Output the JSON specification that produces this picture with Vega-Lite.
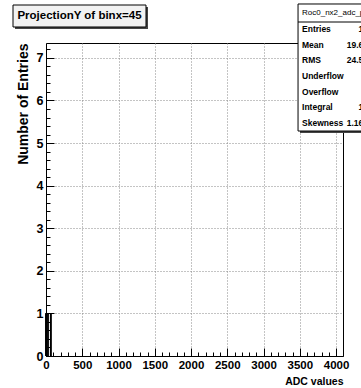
{
  "$schema": "https://vega.github.io/schema/vega-lite/v6.json",
  "width": 297,
  "height": 313,
  "autosize": {"type": "none"},
  "padding": {"left": 46, "top": 43, "right": 18, "bottom": 32},
  "background": "white",
  "config": {
    "view": {"stroke": "#000", "strokeWidth": 1},
    "axis": {
      "labelFont": "Liberation Sans",
      "labelFontWeight": "bold",
      "labelFontSize": 11.5,
      "labelColor": "#000",
      "tickColor": "#000",
      "tickWidth": 1,
      "domainColor": "#000",
      "titleColor": "#000"
    },
    "text": {"font": "Liberation Sans", "color": "#000"}
  },
  "datasets": {
    "adc": [
      {"adc_lo": 0, "adc_hi": 1, "entries": 1},
      {"adc_lo": 1, "adc_hi": 2, "entries": 1},
      {"adc_lo": 2, "adc_hi": 3, "entries": 1},
      {"adc_lo": 3, "adc_hi": 4, "entries": 1},
      {"adc_lo": 5, "adc_hi": 6, "entries": 1},
      {"adc_lo": 9, "adc_hi": 10, "entries": 1},
      {"adc_lo": 15, "adc_hi": 16, "entries": 1},
      {"adc_lo": 30, "adc_hi": 31, "entries": 1},
      {"adc_lo": 61, "adc_hi": 62, "entries": 1},
      {"adc_lo": 70, "adc_hi": 71, "entries": 1}
    ],
    "stats": [
      {"stat": "Entries", "value": "10"},
      {"stat": "Mean", "value": "19.60"},
      {"stat": "RMS", "value": "24.54"},
      {"stat": "Underflow", "value": "0"},
      {"stat": "Overflow", "value": "0"},
      {"stat": "Integral", "value": "10"},
      {"stat": "Skewness", "value": "1.161"}
    ],
    "one": [{}]
  },
  "resolve": {
    "scale": {"y": "independent"},
    "axis": {"x": "independent", "y": "independent"}
  },
  "layer": [
    {
      "resolve": {"axis": {"x": "independent", "y": "independent"}},
      "layer": [
        {
          "data": {"name": "adc"},
          "mark": {"type": "rect", "fill": "#000", "stroke": "#000", "strokeWidth": 1},
          "encoding": {
            "x": {
              "field": "adc_lo", "type": "quantitative",
              "scale": {"domain": [0, 4096], "nice": false, "zero": false},
              "axis": {
                "orient": "bottom",
                "values": [0, 500, 1000, 1500, 2000, 2500, 3000, 3500, 4000],
                "format": "d",
                "tickSize": -8,
                "labelPadding": 11,
                "labelFlush": false,
                "labelOverlap": false,
                "grid": true,
                "gridColor": "#888",
                "gridDash": [1, 2],
                "title": "ADC values",
                "titleFont": "Liberation Sans",
                "titleFontWeight": "bold",
                "titleFontSize": 10.5,
                "titleAlign": "right",
                "titleAnchor": "end",
                "titleBaseline": "top",
                "titleX": 297,
                "titleY": 20
              }
            },
            "x2": {"field": "adc_hi"},
            "y": {
              "field": "entries", "type": "quantitative",
              "scale": {"domain": [0, 7.35], "nice": false},
              "axis": {
                "orient": "left",
                "values": [0, 1, 2, 3, 4, 5, 6, 7],
                "format": "d",
                "tickSize": -8,
                "labelPadding": 11,
                "labelFontSize": 12.5,
                "labelFlush": false,
                "labelOverlap": false,
                "grid": true,
                "gridColor": "#888",
                "gridDash": [1, 2],
                "title": "Number of Entries",
                "titleFont": "Liberation Sans",
                "titleFontWeight": "bold",
                "titleFontSize": 14,
                "titleAngle": -90,
                "titleAlign": "right",
                "titleBaseline": "middle",
                "titleX": -23,
                "titleY": 0
              }
            },
            "y2": {"datum": 0}
          }
        },
        {
          "data": {"name": "one"},
          "mark": {"type": "rect", "fill": "#444", "clip": false},
          "encoding": {
            "x": {"datum": -427.5, "type": "quantitative", "scale": {"domain": [0, 4096]}, "axis": null},
            "x2": {"datum": 1406.7},
            "y": {"datum": 8.195, "type": "quantitative", "scale": {"domain": [0, 7.35]}, "axis": null},
            "y2": {"datum": 7.679}
          }
        },
        {
          "data": {"name": "one"},
          "mark": {"type": "rect", "fill": "#f2f2f2", "stroke": "#000", "strokeWidth": 1, "clip": false},
          "encoding": {
            "x": {"datum": -455, "type": "quantitative", "scale": {"domain": [0, 4096]}, "axis": null},
            "x2": {"datum": 1379.1},
            "y": {"datum": 8.242, "type": "quantitative", "scale": {"domain": [0, 7.35]}, "axis": null},
            "y2": {"datum": 7.726}
          }
        },
        {
          "data": {"name": "one"},
          "mark": {"type": "text", "text": "ProjectionY of binx=45", "fontSize": 11.5, "fontWeight": "bold", "align": "center", "baseline": "middle", "clip": false},
          "encoding": {
            "x": {"datum": 462, "type": "quantitative", "scale": {"domain": [0, 4096]}, "axis": null},
            "y": {"datum": 7.984, "type": "quantitative", "scale": {"domain": [0, 7.35]}, "axis": null}
          }
        },
        {
          "data": {"name": "one"},
          "mark": {"type": "rect", "fill": "#444", "clip": false},
          "encoding": {
            "x": {"datum": 3503, "type": "quantitative", "scale": {"domain": [0, 4096]}, "axis": null},
            "x2": {"datum": 5300},
            "y": {"datum": 8.219, "type": "quantitative", "scale": {"domain": [0, 7.35]}, "axis": null},
            "y2": {"datum": 5.237}
          }
        },
        {
          "data": {"name": "one"},
          "mark": {"type": "rect", "fill": "#fff", "stroke": "#000", "strokeWidth": 1, "clip": false},
          "encoding": {
            "x": {
              "datum": 3476, "type": "quantitative", "scale": {"domain": [0, 4096]},
              "axis": {
                "orient": "bottom",
                "values": [100, 200, 300, 400, 600, 700, 800, 900, 1100, 1200, 1300, 1400, 1600, 1700, 1800, 1900, 2100, 2200, 2300, 2400, 2600, 2700, 2800, 2900, 3100, 3200, 3300, 3400, 3600, 3700, 3800, 3900],
                "tickSize": -4,
                "labels": false,
                "domain": false,
                "grid": false,
                "title": null
              }
            },
            "x2": {"datum": 5300},
            "y": {
              "datum": 8.266, "type": "quantitative", "scale": {"domain": [0, 7.35]},
              "axis": {
                "orient": "left",
                "values": [0.2, 0.4, 0.6, 0.8, 1.2, 1.4, 1.6, 1.8, 2.2, 2.4, 2.6, 2.8, 3.2, 3.4, 3.6, 3.8, 4.2, 4.4, 4.6, 4.8, 5.2, 5.4, 5.6, 5.8, 6.2, 6.4, 6.6, 6.8, 7.2],
                "tickSize": -4,
                "labels": false,
                "domain": false,
                "grid": false,
                "title": null
              }
            },
            "y2": {"datum": 5.283}
          }
        },
        {
          "data": {"name": "one"},
          "mark": {"type": "rule", "stroke": "#000", "strokeWidth": 1, "clip": false},
          "encoding": {
            "x": {"datum": 3476, "type": "quantitative", "scale": {"domain": [0, 4096]}, "axis": null},
            "x2": {"datum": 5300},
            "y": {"datum": 7.843, "type": "quantitative", "scale": {"domain": [0, 7.35]}, "axis": null}
          }
        },
        {
          "data": {"name": "one"},
          "mark": {"type": "text", "text": "Roc0_nx2_adc_py", "fontSize": 8, "align": "left", "baseline": "middle", "clip": false},
          "encoding": {
            "x": {"datum": 3531, "type": "quantitative", "scale": {"domain": [0, 4096]}, "axis": null},
            "y": {"datum": 8.054, "type": "quantitative", "scale": {"domain": [0, 7.35]}, "axis": null}
          }
        }
      ]
    },
    {
      "data": {"name": "stats"},
      "mark": {"type": "text", "fontSize": 8.5, "fontWeight": "bold", "align": "left", "baseline": "middle", "clip": false},
      "encoding": {
        "x": {"datum": 3531, "type": "quantitative", "scale": {"domain": [0, 4096]}, "axis": null},
        "y": {
          "field": "stat", "type": "nominal", "sort": null,
          "scale": {"type": "point", "domain": ["Entries", "Mean", "RMS", "Underflow", "Overflow", "Integral", "Skewness"], "range": [-14, 80], "padding": 0},
          "axis": null
        },
        "text": {"field": "stat"}
      }
    },
    {
      "data": {"name": "stats"},
      "mark": {"type": "text", "fontSize": 8.5, "fontWeight": "bold", "align": "right", "baseline": "middle", "clip": false},
      "encoding": {
        "x": {"datum": 4441, "type": "quantitative", "scale": {"domain": [0, 4096]}, "axis": null},
        "y": {
          "field": "stat", "type": "nominal", "sort": null,
          "scale": {"type": "point", "domain": ["Entries", "Mean", "RMS", "Underflow", "Overflow", "Integral", "Skewness"], "range": [-14, 80], "padding": 0},
          "axis": null
        },
        "text": {"field": "value"}
      }
    }
  ]
}
